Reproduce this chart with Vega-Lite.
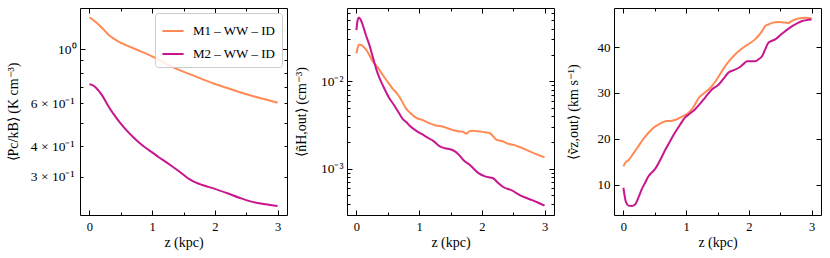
{
  "$schema": "https://vega.github.io/schema/vega-lite/v6.json",
  "padding": {"left": 5, "top": 7, "right": 5, "bottom": 5},
  "background": "white",
  "bounds": "flush",
  "spacing": 60,
  "config": {
    "view": {"stroke": "black", "strokeWidth": 1},
    "axis": {
      "grid": false, "domain": false,
      "labelFont": "Liberation Serif", "titleFont": "Liberation Serif",
      "labelFontSize": 12.5, "titleFontSize": 14, "titleFontWeight": 400,
      "labelColor": "black", "titleColor": "black", "tickColor": "black", "tickWidth": 1
    },
    "legend": {"labelFont": "Liberation Serif", "labelFontSize": 13, "labelColor": "black"},
    "line": {"strokeWidth": 2}
  },
  "datasets": {
    "p1": [
      {"model": "M1 – WW – ID", "z": 0.0, "v": 1.354},
      {"model": "M1 – WW – ID", "z": 0.1, "v": 1.295},
      {"model": "M1 – WW – ID", "z": 0.2, "v": 1.225},
      {"model": "M1 – WW – ID", "z": 0.3, "v": 1.15},
      {"model": "M1 – WW – ID", "z": 0.4, "v": 1.10},
      {"model": "M1 – WW – ID", "z": 0.5, "v": 1.062},
      {"model": "M1 – WW – ID", "z": 0.6, "v": 1.035},
      {"model": "M1 – WW – ID", "z": 0.8, "v": 0.985},
      {"model": "M1 – WW – ID", "z": 1.0, "v": 0.935},
      {"model": "M1 – WW – ID", "z": 1.2, "v": 0.88},
      {"model": "M1 – WW – ID", "z": 1.4, "v": 0.828},
      {"model": "M1 – WW – ID", "z": 1.6, "v": 0.79},
      {"model": "M1 – WW – ID", "z": 1.8, "v": 0.754},
      {"model": "M1 – WW – ID", "z": 2.0, "v": 0.72},
      {"model": "M1 – WW – ID", "z": 2.2, "v": 0.693},
      {"model": "M1 – WW – ID", "z": 2.4, "v": 0.666},
      {"model": "M1 – WW – ID", "z": 2.6, "v": 0.643},
      {"model": "M1 – WW – ID", "z": 2.8, "v": 0.623},
      {"model": "M1 – WW – ID", "z": 3.0, "v": 0.603},
      {"model": "M2 – WW – ID", "z": 0.0, "v": 0.718},
      {"model": "M2 – WW – ID", "z": 0.05, "v": 0.712},
      {"model": "M2 – WW – ID", "z": 0.1, "v": 0.697},
      {"model": "M2 – WW – ID", "z": 0.15, "v": 0.675},
      {"model": "M2 – WW – ID", "z": 0.2, "v": 0.648},
      {"model": "M2 – WW – ID", "z": 0.3, "v": 0.585},
      {"model": "M2 – WW – ID", "z": 0.4, "v": 0.535},
      {"model": "M2 – WW – ID", "z": 0.5, "v": 0.495},
      {"model": "M2 – WW – ID", "z": 0.6, "v": 0.462},
      {"model": "M2 – WW – ID", "z": 0.7, "v": 0.435},
      {"model": "M2 – WW – ID", "z": 0.8, "v": 0.412},
      {"model": "M2 – WW – ID", "z": 0.9, "v": 0.393},
      {"model": "M2 – WW – ID", "z": 1.0, "v": 0.377},
      {"model": "M2 – WW – ID", "z": 1.1, "v": 0.361},
      {"model": "M2 – WW – ID", "z": 1.2, "v": 0.347},
      {"model": "M2 – WW – ID", "z": 1.3, "v": 0.333},
      {"model": "M2 – WW – ID", "z": 1.4, "v": 0.319},
      {"model": "M2 – WW – ID", "z": 1.5, "v": 0.305},
      {"model": "M2 – WW – ID", "z": 1.6, "v": 0.292},
      {"model": "M2 – WW – ID", "z": 1.7, "v": 0.283},
      {"model": "M2 – WW – ID", "z": 1.8, "v": 0.277},
      {"model": "M2 – WW – ID", "z": 1.9, "v": 0.272},
      {"model": "M2 – WW – ID", "z": 2.0, "v": 0.267},
      {"model": "M2 – WW – ID", "z": 2.2, "v": 0.256},
      {"model": "M2 – WW – ID", "z": 2.4, "v": 0.245},
      {"model": "M2 – WW – ID", "z": 2.6, "v": 0.236},
      {"model": "M2 – WW – ID", "z": 2.8, "v": 0.231},
      {"model": "M2 – WW – ID", "z": 3.0, "v": 0.227}
    ],
    "p2": [
      {"model": "M1 – WW – ID", "z": 0.0, "v": 0.0208},
      {"model": "M1 – WW – ID", "z": 0.02, "v": 0.024},
      {"model": "M1 – WW – ID", "z": 0.04, "v": 0.0263},
      {"model": "M1 – WW – ID", "z": 0.08, "v": 0.0258},
      {"model": "M1 – WW – ID", "z": 0.16, "v": 0.0227},
      {"model": "M1 – WW – ID", "z": 0.265, "v": 0.0167},
      {"model": "M1 – WW – ID", "z": 0.35, "v": 0.014},
      {"model": "M1 – WW – ID", "z": 0.42, "v": 0.0118},
      {"model": "M1 – WW – ID", "z": 0.5, "v": 0.0098},
      {"model": "M1 – WW – ID", "z": 0.58, "v": 0.0082},
      {"model": "M1 – WW – ID", "z": 0.65, "v": 0.0072},
      {"model": "M1 – WW – ID", "z": 0.7, "v": 0.0064},
      {"model": "M1 – WW – ID", "z": 0.79, "v": 0.0049},
      {"model": "M1 – WW – ID", "z": 0.85, "v": 0.0044},
      {"model": "M1 – WW – ID", "z": 0.96, "v": 0.0038},
      {"model": "M1 – WW – ID", "z": 1.06, "v": 0.0036},
      {"model": "M1 – WW – ID", "z": 1.17, "v": 0.0033},
      {"model": "M1 – WW – ID", "z": 1.25, "v": 0.00315},
      {"model": "M1 – WW – ID", "z": 1.33, "v": 0.00308},
      {"model": "M1 – WW – ID", "z": 1.41, "v": 0.00298},
      {"model": "M1 – WW – ID", "z": 1.49, "v": 0.00285},
      {"model": "M1 – WW – ID", "z": 1.62, "v": 0.00268},
      {"model": "M1 – WW – ID", "z": 1.7, "v": 0.00265},
      {"model": "M1 – WW – ID", "z": 1.75, "v": 0.00252},
      {"model": "M1 – WW – ID", "z": 1.8, "v": 0.00268},
      {"model": "M1 – WW – ID", "z": 1.85, "v": 0.00272},
      {"model": "M1 – WW – ID", "z": 1.94, "v": 0.00268},
      {"model": "M1 – WW – ID", "z": 2.05, "v": 0.00262},
      {"model": "M1 – WW – ID", "z": 2.13, "v": 0.00255},
      {"model": "M1 – WW – ID", "z": 2.18, "v": 0.00235},
      {"model": "M1 – WW – ID", "z": 2.23, "v": 0.00215},
      {"model": "M1 – WW – ID", "z": 2.34, "v": 0.00205},
      {"model": "M1 – WW – ID", "z": 2.42, "v": 0.00193},
      {"model": "M1 – WW – ID", "z": 2.5, "v": 0.00188},
      {"model": "M1 – WW – ID", "z": 2.58, "v": 0.0018},
      {"model": "M1 – WW – ID", "z": 2.7, "v": 0.00166},
      {"model": "M1 – WW – ID", "z": 2.79, "v": 0.00155},
      {"model": "M1 – WW – ID", "z": 2.9, "v": 0.00144},
      {"model": "M1 – WW – ID", "z": 3.0, "v": 0.00135},
      {"model": "M2 – WW – ID", "z": 0.0, "v": 0.0383},
      {"model": "M2 – WW – ID", "z": 0.02, "v": 0.05},
      {"model": "M2 – WW – ID", "z": 0.04, "v": 0.0535},
      {"model": "M2 – WW – ID", "z": 0.07, "v": 0.05},
      {"model": "M2 – WW – ID", "z": 0.1, "v": 0.044},
      {"model": "M2 – WW – ID", "z": 0.15, "v": 0.034},
      {"model": "M2 – WW – ID", "z": 0.21, "v": 0.0255},
      {"model": "M2 – WW – ID", "z": 0.27, "v": 0.018},
      {"model": "M2 – WW – ID", "z": 0.32, "v": 0.0135},
      {"model": "M2 – WW – ID", "z": 0.37, "v": 0.0108},
      {"model": "M2 – WW – ID", "z": 0.42, "v": 0.009},
      {"model": "M2 – WW – ID", "z": 0.47, "v": 0.0076},
      {"model": "M2 – WW – ID", "z": 0.53, "v": 0.0063},
      {"model": "M2 – WW – ID", "z": 0.58, "v": 0.0056},
      {"model": "M2 – WW – ID", "z": 0.64, "v": 0.0048},
      {"model": "M2 – WW – ID", "z": 0.69, "v": 0.0042},
      {"model": "M2 – WW – ID", "z": 0.74, "v": 0.0037},
      {"model": "M2 – WW – ID", "z": 0.8, "v": 0.0034},
      {"model": "M2 – WW – ID", "z": 0.85, "v": 0.0031},
      {"model": "M2 – WW – ID", "z": 0.96, "v": 0.0027},
      {"model": "M2 – WW – ID", "z": 1.04, "v": 0.0025},
      {"model": "M2 – WW – ID", "z": 1.12, "v": 0.0023},
      {"model": "M2 – WW – ID", "z": 1.22, "v": 0.0021},
      {"model": "M2 – WW – ID", "z": 1.33, "v": 0.0018},
      {"model": "M2 – WW – ID", "z": 1.41, "v": 0.00172},
      {"model": "M2 – WW – ID", "z": 1.52, "v": 0.00165},
      {"model": "M2 – WW – ID", "z": 1.57, "v": 0.00158},
      {"model": "M2 – WW – ID", "z": 1.62, "v": 0.00148},
      {"model": "M2 – WW – ID", "z": 1.73, "v": 0.00121},
      {"model": "M2 – WW – ID", "z": 1.8, "v": 0.00112},
      {"model": "M2 – WW – ID", "z": 1.94, "v": 0.0009},
      {"model": "M2 – WW – ID", "z": 2.05, "v": 0.00082},
      {"model": "M2 – WW – ID", "z": 2.18, "v": 0.00078},
      {"model": "M2 – WW – ID", "z": 2.25, "v": 0.0007},
      {"model": "M2 – WW – ID", "z": 2.34, "v": 0.00062},
      {"model": "M2 – WW – ID", "z": 2.47, "v": 0.00057},
      {"model": "M2 – WW – ID", "z": 2.63, "v": 0.00049},
      {"model": "M2 – WW – ID", "z": 2.8, "v": 0.00044},
      {"model": "M2 – WW – ID", "z": 2.9, "v": 0.00041},
      {"model": "M2 – WW – ID", "z": 3.0, "v": 0.00038}
    ],
    "p3": [
      {"model": "M1 – WW – ID", "z": 0.0, "v": 14.0},
      {"model": "M1 – WW – ID", "z": 0.03, "v": 14.75},
      {"model": "M1 – WW – ID", "z": 0.08, "v": 15.3},
      {"model": "M1 – WW – ID", "z": 0.16, "v": 16.8},
      {"model": "M1 – WW – ID", "z": 0.24, "v": 18.4},
      {"model": "M1 – WW – ID", "z": 0.32, "v": 20.0},
      {"model": "M1 – WW – ID", "z": 0.4, "v": 21.3},
      {"model": "M1 – WW – ID", "z": 0.48, "v": 22.4},
      {"model": "M1 – WW – ID", "z": 0.56, "v": 23.1},
      {"model": "M1 – WW – ID", "z": 0.67, "v": 23.8},
      {"model": "M1 – WW – ID", "z": 0.75, "v": 23.9},
      {"model": "M1 – WW – ID", "z": 0.82, "v": 24.1},
      {"model": "M1 – WW – ID", "z": 0.93, "v": 24.8},
      {"model": "M1 – WW – ID", "z": 1.04, "v": 25.7},
      {"model": "M1 – WW – ID", "z": 1.12, "v": 27.0},
      {"model": "M1 – WW – ID", "z": 1.2, "v": 28.9},
      {"model": "M1 – WW – ID", "z": 1.3, "v": 30.1},
      {"model": "M1 – WW – ID", "z": 1.41, "v": 31.5},
      {"model": "M1 – WW – ID", "z": 1.5, "v": 33.2},
      {"model": "M1 – WW – ID", "z": 1.62, "v": 35.8},
      {"model": "M1 – WW – ID", "z": 1.7, "v": 37.2},
      {"model": "M1 – WW – ID", "z": 1.78, "v": 38.4},
      {"model": "M1 – WW – ID", "z": 1.86, "v": 39.4},
      {"model": "M1 – WW – ID", "z": 1.94, "v": 40.2},
      {"model": "M1 – WW – ID", "z": 2.02, "v": 40.9},
      {"model": "M1 – WW – ID", "z": 2.1, "v": 41.7},
      {"model": "M1 – WW – ID", "z": 2.16, "v": 42.6},
      {"model": "M1 – WW – ID", "z": 2.21, "v": 43.5},
      {"model": "M1 – WW – ID", "z": 2.26, "v": 44.6},
      {"model": "M1 – WW – ID", "z": 2.32, "v": 45.0},
      {"model": "M1 – WW – ID", "z": 2.37, "v": 45.3},
      {"model": "M1 – WW – ID", "z": 2.47, "v": 45.5},
      {"model": "M1 – WW – ID", "z": 2.55, "v": 45.4},
      {"model": "M1 – WW – ID", "z": 2.63, "v": 45.3},
      {"model": "M1 – WW – ID", "z": 2.68, "v": 45.7},
      {"model": "M1 – WW – ID", "z": 2.74, "v": 46.05},
      {"model": "M1 – WW – ID", "z": 2.82, "v": 46.3},
      {"model": "M1 – WW – ID", "z": 2.9, "v": 46.4},
      {"model": "M1 – WW – ID", "z": 3.0, "v": 46.3},
      {"model": "M2 – WW – ID", "z": 0.0, "v": 9.3},
      {"model": "M2 – WW – ID", "z": 0.02, "v": 7.5},
      {"model": "M2 – WW – ID", "z": 0.04, "v": 6.2},
      {"model": "M2 – WW – ID", "z": 0.08, "v": 5.4},
      {"model": "M2 – WW – ID", "z": 0.13, "v": 5.3},
      {"model": "M2 – WW – ID", "z": 0.19, "v": 5.7},
      {"model": "M2 – WW – ID", "z": 0.24, "v": 7.2},
      {"model": "M2 – WW – ID", "z": 0.29, "v": 8.9},
      {"model": "M2 – WW – ID", "z": 0.35, "v": 10.5},
      {"model": "M2 – WW – ID", "z": 0.4, "v": 11.8},
      {"model": "M2 – WW – ID", "z": 0.45, "v": 12.6},
      {"model": "M2 – WW – ID", "z": 0.5, "v": 13.3},
      {"model": "M2 – WW – ID", "z": 0.58, "v": 15.2},
      {"model": "M2 – WW – ID", "z": 0.67, "v": 17.65},
      {"model": "M2 – WW – ID", "z": 0.75, "v": 19.6},
      {"model": "M2 – WW – ID", "z": 0.82, "v": 21.3},
      {"model": "M2 – WW – ID", "z": 0.9, "v": 23.0},
      {"model": "M2 – WW – ID", "z": 0.98, "v": 24.6},
      {"model": "M2 – WW – ID", "z": 1.06, "v": 25.5},
      {"model": "M2 – WW – ID", "z": 1.14, "v": 26.4},
      {"model": "M2 – WW – ID", "z": 1.22, "v": 27.6},
      {"model": "M2 – WW – ID", "z": 1.3, "v": 28.95},
      {"model": "M2 – WW – ID", "z": 1.41, "v": 30.75},
      {"model": "M2 – WW – ID", "z": 1.52, "v": 31.85},
      {"model": "M2 – WW – ID", "z": 1.6, "v": 33.2},
      {"model": "M2 – WW – ID", "z": 1.68, "v": 34.5},
      {"model": "M2 – WW – ID", "z": 1.76, "v": 35.0},
      {"model": "M2 – WW – ID", "z": 1.84, "v": 35.5},
      {"model": "M2 – WW – ID", "z": 1.92, "v": 36.4},
      {"model": "M2 – WW – ID", "z": 1.97, "v": 36.9},
      {"model": "M2 – WW – ID", "z": 2.05, "v": 36.9},
      {"model": "M2 – WW – ID", "z": 2.1, "v": 36.9},
      {"model": "M2 – WW – ID", "z": 2.16, "v": 37.4},
      {"model": "M2 – WW – ID", "z": 2.21, "v": 38.0},
      {"model": "M2 – WW – ID", "z": 2.26, "v": 39.5},
      {"model": "M2 – WW – ID", "z": 2.31, "v": 40.95},
      {"model": "M2 – WW – ID", "z": 2.37, "v": 41.4},
      {"model": "M2 – WW – ID", "z": 2.42, "v": 41.7},
      {"model": "M2 – WW – ID", "z": 2.5, "v": 42.6},
      {"model": "M2 – WW – ID", "z": 2.58, "v": 43.5},
      {"model": "M2 – WW – ID", "z": 2.69, "v": 44.6},
      {"model": "M2 – WW – ID", "z": 2.77, "v": 45.2},
      {"model": "M2 – WW – ID", "z": 2.85, "v": 45.7},
      {"model": "M2 – WW – ID", "z": 2.92, "v": 45.9},
      {"model": "M2 – WW – ID", "z": 3.0, "v": 46.05}
    ]
  },
  "resolve": {"scale": {"color": "independent"}, "legend": {"color": "independent"}},
  "hconcat": [
    {
      "width": 207, "height": 207,
      "data": {"name": "p1"},
      "resolve": {"axis": {"x": "independent", "y": "independent"}},
      "layer": [
        {
          "mark": {"type": "line", "interpolate": "monotone"},
          "encoding": {
            "x": {"field": "z", "type": "quantitative", "scale": {"domain": [-0.15, 3.15], "nice": false, "zero": false},
              "axis": {"orient": "bottom", "title": "z (kpc)", "titleFontWeight": 400, "values": [0, 0.5, 1, 1.5, 2, 2.5, 3],
                "labelExpr": "datum.value % 1 == 0 ? format(datum.value, 'd') : ''",
                "tickSize": {"condition": {"test": "datum.value % 1 == 0", "value": -5}, "value": -3},
                "labelPadding": 10, "titlePadding": 3}},
            "y": {"field": "v", "type": "quantitative", "scale": {"type": "log", "domain": [0.2085, 1.477], "nice": false},
              "axis": {"orient": "left", "title": "⟨Pc/kB⟩ (K cm⁻³)", "titleFontWeight": 400, "values": [0.3, 0.4, 0.5, 0.6, 0.7, 0.8, 0.9, 1],
                "labelFontSize": 13.5,
                "labelExpr": "abs(datum.value-1)<1e-9 ? '10⁰' : abs(datum.value-0.6)<1e-9 ? '6 × 10⁻¹' : abs(datum.value-0.4)<1e-9 ? '4 × 10⁻¹' : abs(datum.value-0.3)<1e-9 ? '3 × 10⁻¹' : ''",
                "tickSize": {"condition": {"test": "abs(datum.value-1)<1e-9", "value": -5}, "value": -3},
                "labelPadding": 9, "titlePadding": 10}},
            "color": {"field": "model", "type": "nominal",
              "scale": {"domain": ["M1 – WW – ID", "M2 – WW – ID"], "range": ["#ff8a55", "#c8168f"]},
              "legend": {"title": null, "orient": "top-right", "offset": 5, "padding": 6, "strokeColor": "#cccccc",
                "fillColor": "rgba(255,255,255,0.85)", "cornerRadius": 3, "symbolType": "stroke",
                "symbolSize": 450, "symbolStrokeWidth": 2, "rowPadding": 4, "labelOffset": 8}}
          }
        },
        {
          "mark": {"type": "line", "opacity": 0},
          "encoding": {
            "detail": {"field": "model"},
            "x": {"field": "z", "type": "quantitative",
              "axis": {"orient": "top", "title": null, "labels": false, "values": [0, 0.5, 1, 1.5, 2, 2.5, 3],
                "tickSize": {"condition": {"test": "datum.value % 1 == 0", "value": -5}, "value": -3}}},
            "y": {"field": "v", "type": "quantitative",
              "axis": {"orient": "right", "title": null, "labels": false, "values": [0.3, 0.4, 0.5, 0.6, 0.7, 0.8, 0.9, 1],
                "tickSize": {"condition": {"test": "abs(datum.value-1)<1e-9", "value": -5}, "value": -3}}}
          }
        }
      ]
    },
    {
      "width": 207, "height": 207,
      "data": {"name": "p2"},
      "resolve": {"axis": {"x": "independent", "y": "independent"}},
      "layer": [
        {
          "mark": {"type": "line", "interpolate": "monotone"},
          "encoding": {
            "x": {"field": "z", "type": "quantitative", "scale": {"domain": [-0.15, 3.15], "nice": false, "zero": false},
              "axis": {"orient": "bottom", "title": "z (kpc)", "titleFontWeight": 400, "values": [0, 0.5, 1, 1.5, 2, 2.5, 3],
                "labelExpr": "datum.value % 1 == 0 ? format(datum.value, 'd') : ''",
                "tickSize": {"condition": {"test": "datum.value % 1 == 0", "value": -5}, "value": -3},
                "labelPadding": 10, "titlePadding": 3}},
            "y": {"field": "v", "type": "quantitative", "scale": {"type": "log", "domain": [0.000297, 0.0686], "nice": false},
              "axis": {"orient": "left", "title": "⟨ñH,out⟩ (cm⁻³)", "titleFontWeight": 400,
                "labelFontSize": 13.5,
                "values": [0.0003, 0.0004, 0.0005, 0.0006, 0.0007, 0.0008, 0.0009, 0.001, 0.002, 0.003, 0.004, 0.005, 0.006, 0.007, 0.008, 0.009, 0.01, 0.02, 0.03, 0.04, 0.05, 0.06],
                "labelExpr": "abs(datum.value-0.01)<1e-9 ? '10⁻²' : abs(datum.value-0.001)<1e-10 ? '10⁻³' : ''",
                "tickSize": {"condition": {"test": "abs(datum.value-0.01)<1e-9 || abs(datum.value-0.001)<1e-10", "value": -5}, "value": -3},
                "labelPadding": 9, "titlePadding": 12}},
            "color": {"field": "model", "type": "nominal",
              "scale": {"domain": ["M1 – WW – ID", "M2 – WW – ID"], "range": ["#ff8a55", "#c8168f"]},
              "legend": null}
          }
        },
        {
          "mark": {"type": "line", "opacity": 0},
          "encoding": {
            "detail": {"field": "model"},
            "x": {"field": "z", "type": "quantitative",
              "axis": {"orient": "top", "title": null, "labels": false, "values": [0, 0.5, 1, 1.5, 2, 2.5, 3],
                "tickSize": {"condition": {"test": "datum.value % 1 == 0", "value": -5}, "value": -3}}},
            "y": {"field": "v", "type": "quantitative",
              "axis": {"orient": "right", "title": null, "labels": false,
                "values": [0.0003, 0.0004, 0.0005, 0.0006, 0.0007, 0.0008, 0.0009, 0.001, 0.002, 0.003, 0.004, 0.005, 0.006, 0.007, 0.008, 0.009, 0.01, 0.02, 0.03, 0.04, 0.05, 0.06],
                "tickSize": {"condition": {"test": "abs(datum.value-0.01)<1e-9 || abs(datum.value-0.001)<1e-10", "value": -5}, "value": -3}}}
          }
        }
      ]
    },
    {
      "width": 207, "height": 207,
      "data": {"name": "p3"},
      "resolve": {"axis": {"x": "independent", "y": "independent"}},
      "layer": [
        {
          "mark": {"type": "line", "interpolate": "monotone"},
          "encoding": {
            "x": {"field": "z", "type": "quantitative", "scale": {"domain": [-0.15, 3.15], "nice": false, "zero": false},
              "axis": {"orient": "bottom", "title": "z (kpc)", "titleFontWeight": 400, "values": [0, 0.5, 1, 1.5, 2, 2.5, 3],
                "labelExpr": "datum.value % 1 == 0 ? format(datum.value, 'd') : ''",
                "tickSize": {"condition": {"test": "datum.value % 1 == 0", "value": -5}, "value": -3},
                "labelPadding": 10, "titlePadding": 3}},
            "y": {"field": "v", "type": "quantitative", "scale": {"domain": [3.35, 48.55], "nice": false, "zero": false},
              "axis": {"orient": "left", "title": "⟨ṽz,out⟩ (km s⁻¹)", "titleFontWeight": 400, "values": [10, 20, 30, 40],
                "labelFontSize": 13,
                "tickSize": -5, "labelPadding": 9, "titlePadding": 17}},
            "color": {"field": "model", "type": "nominal",
              "scale": {"domain": ["M1 – WW – ID", "M2 – WW – ID"], "range": ["#ff8a55", "#c8168f"]},
              "legend": null}
          }
        },
        {
          "mark": {"type": "line", "opacity": 0},
          "encoding": {
            "detail": {"field": "model"},
            "x": {"field": "z", "type": "quantitative",
              "axis": {"orient": "top", "title": null, "labels": false, "values": [0, 0.5, 1, 1.5, 2, 2.5, 3],
                "tickSize": {"condition": {"test": "datum.value % 1 == 0", "value": -5}, "value": -3}}},
            "y": {"field": "v", "type": "quantitative",
              "axis": {"orient": "right", "title": null, "labels": false, "values": [10, 20, 30, 40], "tickSize": -5}}
          }
        }
      ]
    }
  ]
}
